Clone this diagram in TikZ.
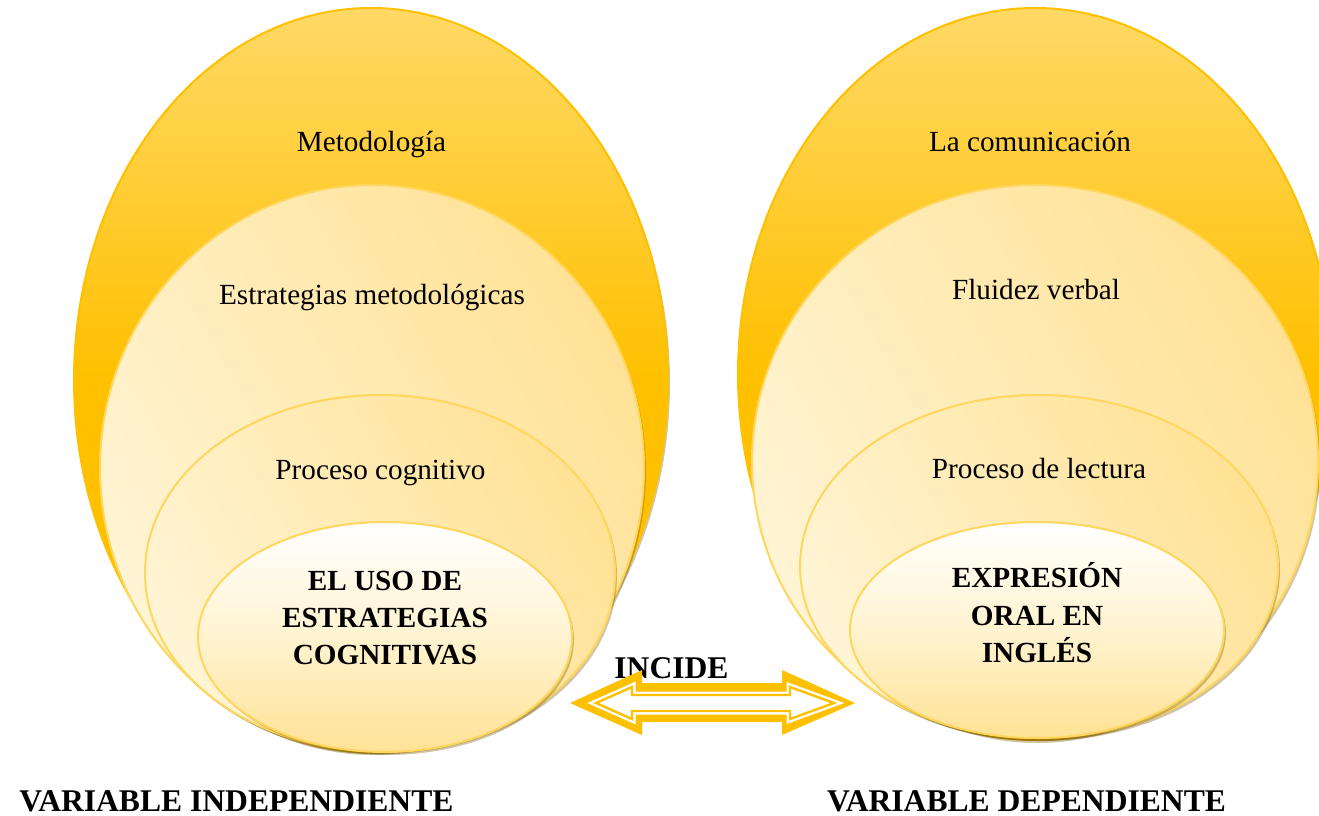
\documentclass[tikz,border=0pt]{standalone}
\usepackage{fontspec}
\setmainfont{Liberation Serif}
\usetikzlibrary{shapes.geometric,shadows}
\definecolor{gold}{HTML}{FFC000}
\definecolor{goldtop}{HTML}{FFD966}
\definecolor{cream}{HTML}{FFF4D4}
\definecolor{creamdark}{HTML}{FFE296}
\definecolor{creammid}{HTML}{FFF3D0}
\definecolor{rim}{HTML}{FFD75E}
\definecolor{shad}{HTML}{7A5A00}
\pgfdeclareverticalshading{outergold}{100bp}{color(0bp)=(gold); color(50bp)=(gold); color(75bp)=(goldtop); color(100bp)=(goldtop)}
\tikzset{
  ellbase/.style={ellipse, inner sep=0pt, outer sep=0pt,
    drop shadow={shadow xshift=1pt, shadow yshift=-1.5pt, opacity=0.35, fill=shad}},
  outerell/.style={ellbase, draw=gold, line width=1pt, shading=outergold},
  midell/.style={ellbase, draw=rim, line width=1pt, shading=axis,
    top color=cream, bottom color=creamdark, shading angle=120},
  coreell/.style={ellbase, draw=rim, line width=1pt, shading=axis,
    top color=white, bottom color=creamdark, middle color=creammid},
  txt/.style={font=\fontsize{14.6}{18.7}\selectfont, inner sep=0pt, anchor=base},
  coretxt/.style={font=\fontsize{14.6}{18.7}\selectfont\bfseries, inner sep=0pt, align=center},
  vartxt/.style={font=\fontsize{15.8}{19}\selectfont\bfseries, inner sep=0pt, anchor=base}
}
\begin{document}
\begin{tikzpicture}[x=0.5pt, y=-0.5pt]
\useasboundingbox (0,0) rectangle (1319,815);
\clip (0,0) rectangle (1319,815);

% left group
\node[outerell, minimum width=297pt, minimum height=372pt] (L1) at (371,380) {};
\node[midell, minimum width=272pt, minimum height=283pt] (L2) at (372,468) {};
\node[midell, minimum width=235pt, minimum height=178pt] (L3) at (380,573) {};
\node[coreell, minimum width=187pt, minimum height=115pt] (L4) at (385,637) {};

% right group
\node[outerell, minimum width=297pt, minimum height=366pt] (R1) at (1035,374) {};
\node[midell, minimum width=283pt, minimum height=276.5pt] (R2) at (1035,461.5) {};
\node[midell, minimum width=239pt, minimum height=171.5pt] (R3) at (1039,566.5) {};
\node[coreell, minimum width=187pt, minimum height=108pt] (R4) at (1037,630) {};

% texts
\node[txt] (t1) at (371.5,151) {Metodología};
\node[txt] (t2) at (372,304) {Estrategias metodológicas};
\node[txt] (t3) at (380.5,479) {Proceso cognitivo};
\node[coretxt] (t4) at (385,618) {EL USO DE\\ESTRATEGIAS\\COGNITIVAS};

\node[txt] (u1) at (1030,151) {La comunicación};
\node[txt] (u2) at (1036,299) {Fluidez verbal};
\node[txt] (u3) at (1039,478) {Proceso de lectura};
\node[coretxt] (u4) at (1037,613) {EXPRESIÓN\\ORAL EN\\INGLÉS};

\node[vartxt] (inc) at (671.5,678) {INCIDE};
\node[vartxt] (vi) at (236.5,811) {VARIABLE INDEPENDIENTE};
\node[vartxt] (vd) at (1026.5,811) {VARIABLE DEPENDIENTE};

% double arrow
\fill[gold] (570,703) -- (642,670) -- (642,683) -- (782,683) -- (782,670) -- (855,703)
  -- (782,735) -- (782,722) -- (642,722) -- (642,735) -- cycle;
\draw[white, line width=3.5pt, fill=white] (596,703) -- (632,687) -- (632,695) -- (790,695)
  -- (790,687) -- (834,703) -- (790,719) -- (790,711) -- (632,711) -- (632,719) -- cycle;
\draw[gold, line width=1.2pt] (596,703) -- (632,687) -- (632,695) -- (790,695)
  -- (790,687) -- (834,703) -- (790,719) -- (790,711) -- (632,711) -- (632,719) -- cycle;
\end{tikzpicture}
\end{document}
